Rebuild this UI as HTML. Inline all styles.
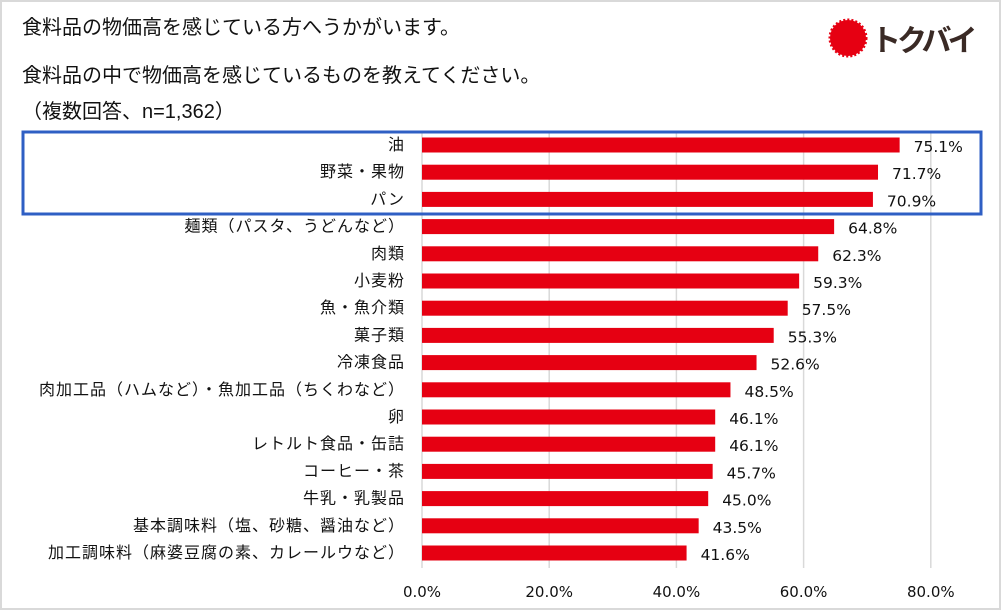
<!DOCTYPE html>
<html><head><meta charset="utf-8"><style>
body{margin:0;background:#fff;font-family:"Liberation Sans","Noto Sans CJK JP",sans-serif;}
#wrap{position:relative;width:1002px;height:611px;overflow:hidden;}
</style></head><body>
<div id="wrap">
<svg id="svg" width="1002" height="611" style="position:absolute;left:0;top:0">
<rect x="1" y="1" width="999" height="608" fill="#fff" stroke="#d9d9d9" stroke-width="2"/>
<g font-family="Liberation Sans, Noto Sans CJK JP, sans-serif" fill="#111" font-size="20">
<text x="22" y="34">食料品の物価高を感じている方へうかがいます。</text>
<text x="22" y="82">食料品の中で物価高を感じているものを教えてください。</text>
<text x="22" y="118">（複数回答、n=1,362）</text>
</g>
<g>
<circle cx="848" cy="38" r="18" fill="#e60012" stroke="#e60012" stroke-width="3" stroke-dasharray="2 2"/>
<text x="871" y="51" font-size="30" font-weight="bold" fill="#3a2a25" font-family="Noto Sans CJK JP, sans-serif" letter-spacing="-4">トクバイ</text>
</g>
<g id="grid"></g><g id="bars"></g><g id="ticks"></g>
<rect x="23" y="132" width="958" height="82" fill="none" stroke="#2f5fc4" stroke-width="3"/>
</svg>
</div>
<script>
const categories=["油","野菜・果物","パン","麺類（パスタ、うどんなど）","肉類","小麦粉","魚・魚介類","菓子類","冷凍食品","肉加工品（ハムなど）・魚加工品（ちくわなど）","卵","レトルト食品・缶詰","コーヒー・茶","牛乳・乳製品","基本調味料（塩、砂糖、醤油など）","加工調味料（麻婆豆腐の素、カレールウなど）"];
const values=[75.1,71.7,70.9,64.8,62.3,59.3,57.5,55.3,52.6,48.5,46.1,46.1,45.7,45.0,43.5,41.6];
const tickValues=[0,20,40,60,80];
const tickLabels=["0.0%","20.0%","40.0%","60.0%","80.0%"];
const NS="http://www.w3.org/2000/svg";
const x0=422,pxPer=6.36,rowTop=145,pitch=27.2,barH=15;
const xs=v=>x0+v*pxPer;
const ys=i=>rowTop+i*pitch;
const numFont="DejaVu Sans, Liberation Sans, sans-serif";
function mk(t,a,p){const e=document.createElementNS(NS,t);for(const k in a)e.setAttribute(k,a[k]);p.appendChild(e);return e;}
const grid=document.getElementById('grid'),bars=document.getElementById('bars'),ticks=document.getElementById('ticks');
tickValues.forEach((v,i)=>{
 const l=mk('line',{x1:xs(v),x2:xs(v),y1:132,y2:568,stroke:'#d9d9d9','stroke-width':1.5},grid);
 
 
 const t=mk('text',{x:xs(v),y:597,'text-anchor':'middle','font-size':15,fill:'#111','font-family':numFont},ticks);
 t.textContent=tickLabels[i];
 
 
});
categories.forEach((c,i)=>{
 const y=ys(i);
 const r=mk('rect',{x:x0,y:y-barH/2,width:xs(values[i])-x0,height:barH,fill:'#e60012'},bars);
 
 
 const lb=mk('text',{x:405,y:y+5,'text-anchor':'end','font-size':16,'letter-spacing':1,fill:'#111'},bars);
 lb.textContent=c;
 
 
 const vl=mk('text',{x:xs(values[i])+14,y:y+7,'font-size':15.5,fill:'#111','font-family':numFont},bars);
 vl.textContent=values[i].toFixed(1)+'%';
 
 
});
</script>
</body></html>
